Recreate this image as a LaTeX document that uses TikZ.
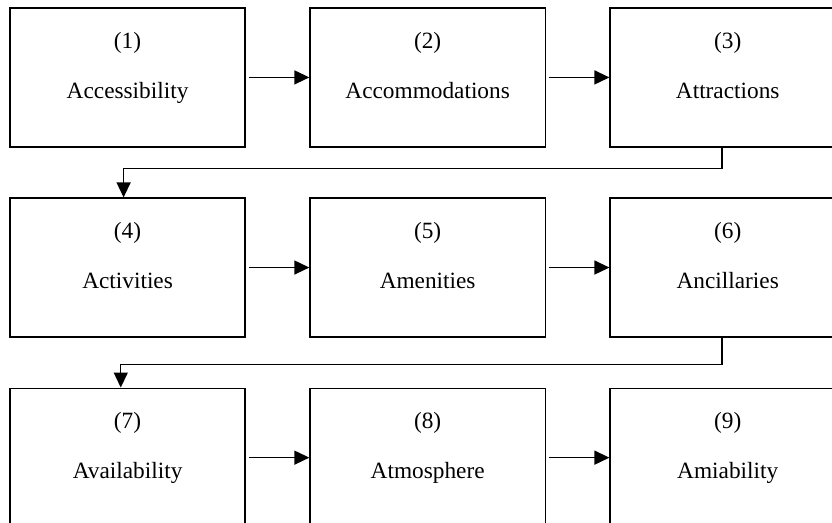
\documentclass[tikz,border=0pt]{standalone}
\usepackage{fontspec}
\setmainfont{Liberation Serif}
\usepackage{tikz}
\usetikzlibrary{positioning, arrows.meta}

\begin{document}
\begin{tikzpicture}[
                    node distance=0.88cm and 1.12cm,
                    every node/.style={align=center, font=\fontsize{11.7}{14}\selectfont},
                    stage/.style={draw, line width=0.7pt, minimum height=2.45cm, minimum width=4.15cm, text depth=12pt, text centered},
                    >={Triangle[length=7.5pt, width=7pt]}
                ]

                    \useasboundingbox (-2.251cm, 1.366cm) rectangle ++(14.68cm,-9.226cm);

                    % Nodes (three rows)
                    \node (acc) [stage] at (0,0) {(1)\\[11pt]Accessibility};
                    \node (acm) [stage, right=of acc] {(2)\\[11pt]Accommodations};
                    \node (att) [stage, right=of acm] {(3)\\[11pt]Attractions};
                    \node (act) [stage, below=of acc] {(4)\\[11pt]Activities};
                    \node (ame) [stage, right=of act] {(5)\\[11pt]Amenities};
                    \node (anc) [stage, right=of ame] {(6)\\[11pt]Ancillaries};
                    \node (ava) [stage, below=of act] {(7)\\[11pt]Availability};
                    \node (atm) [stage, right=of ava] {(8)\\[11pt]Atmosphere};
                    \node (ami) [stage, right=of atm] {(9)\\[11pt]Amiability};

                    % Arrows
                    \draw[->, line width=0.7pt, shorten <=1.5pt] (acc) -- (acm);
                    \draw[->, line width=0.7pt, shorten <=1.5pt] (acm) -- (att);
                    \draw[->, line width=0.7pt] ([xshift=-0.1cm]att.south) -- ++(0,-0.37cm) -| ([xshift=-0.07cm]act.north);
                    \draw[->, line width=0.7pt, shorten <=1.5pt] (act) -- (ame);
                    \draw[->, line width=0.7pt, shorten <=1.5pt] (ame) -- (anc);
                    \draw[->, line width=0.7pt] ([xshift=-0.1cm]anc.south) -- ++(0,-0.47cm) -| ([xshift=-0.12cm]ava.north);
                    \draw[->, line width=0.7pt, shorten <=1.5pt] (ava) -- (atm);
                    \draw[->, line width=0.7pt, shorten <=1.5pt] (atm) -- (ami);

                \end{tikzpicture}
\end{document}
